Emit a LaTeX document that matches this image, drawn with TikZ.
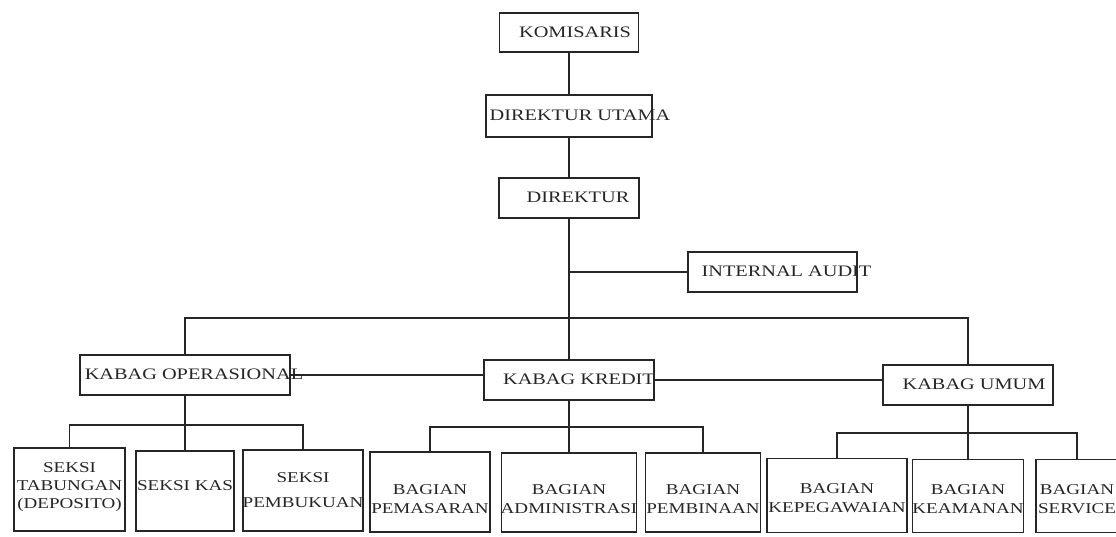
\documentclass[tikz,border=0pt]{standalone}
\usepackage{fontspec}
\setmainfont{Liberation Serif}[FakeStretch=1.27]
\newcommand\bxt[3]{\makebox[0pt]{\hspace*{#1}\raisebox{#2}[0pt][0pt]{\begin{tabular}{@{}c@{}}#3\end{tabular}}}}
\begin{document}
\begin{tikzpicture}[x=1pt,y=-1pt,
  box/.style={draw=black!85, line width=1.2pt, inner sep=0pt, text=black!85},
  big/.style={font=\fontsize{16}{19}\selectfont},
  small/.style={font=\fontsize{15}{19}\selectfont},
  conn/.style={draw=black!85, line width=1.2pt}]
\useasboundingbox[fill=white] (0,0) rectangle (1116,537);

% top chain
\node[box,big,minimum width=139pt,minimum height=39pt] (kom) at (569,32.5) {\bxt{12pt}{-5.5pt}{KOMISARIS}};
\node[box,big,minimum width=166pt,minimum height=42pt] (du) at (569,116) {\bxt{22pt}{-5.5pt}{DIREKTUR UTAMA}};
\node[box,big,minimum width=140pt,minimum height=40pt] (dir) at (569,198) {\bxt{18pt}{-5.5pt}{DIREKTUR}};
\node[box,big,minimum width=169pt,minimum height=40pt] (ia) at (772.5,272) {\bxt{28pt}{-5.5pt}{INTERNAL AUDIT}};

% kabag row
\node[box,big,minimum width=210pt,minimum height=40pt] (kop) at (185,375) {\bxt{18pt}{-5.5pt}{KABAG OPERASIONAL}};
\node[box,big,minimum width=170pt,minimum height=40pt] (kk) at (569,380) {\bxt{20pt}{-5.5pt}{KABAG KREDIT}};
\node[box,big,minimum width=170pt,minimum height=40pt] (ku) at (968,385) {\bxt{12pt}{-5.5pt}{KABAG UMUM}};

% bottom row
\node[box,small,minimum width=111pt,minimum height=83pt] (s1) at (69.5,489.5) {\bxt{0pt}{-0.5pt}{SEKSI\\[-1pt]TABUNGAN\\[-1pt](DEPOSITO)}};
\node[box,small,minimum width=98pt,minimum height=80pt] (s2) at (185,491) {\bxt{0pt}{1pt}{SEKSI KAS}};
\node[box,small,minimum width=120pt,minimum height=81pt] (s3) at (303,490.5) {\bxt{0pt}{-4.5pt}{SEKSI\\[6pt]PEMBUKUAN}};
\node[box,small,minimum width=120pt,minimum height=80pt] (b1) at (430,492) {\bxt{0pt}{-11.5pt}{BAGIAN\\PEMASARAN}};
\node[box,small,minimum width=135pt,minimum height=79pt] (b2) at (569,492.5) {\bxt{0pt}{-11.5pt}{BAGIAN\\ADMINISTRASI}};
\node[box,small,minimum width=115pt,minimum height=79pt] (b3) at (703,492.5) {\bxt{0pt}{-11.5pt}{BAGIAN\\PEMBINAAN}};
\node[box,small,minimum width=140pt,minimum height=74pt] (b4) at (837,495.5) {\bxt{0pt}{-7.5pt}{BAGIAN\\KEPEGAWAIAN}};
\node[box,small,minimum width=111pt,minimum height=73pt] (b5) at (968,496) {\bxt{0pt}{-7.5pt}{BAGIAN\\KEAMANAN}};
\node[box,small,minimum width=82pt,minimum height=73pt] (b6) at (1077,496) {\bxt{0pt}{-7.5pt}{BAGIAN\\SERVICE}};

% bus coordinates
\coordinate (mainbus) at (0,318);
\coordinate (opbus) at (0,425);
\coordinate (kbus) at (0,427);
\coordinate (ubus) at (0,433);

% connectors
\draw[conn] (kom.south) -- (du.north);
\draw[conn] (du.south) -- (dir.north);
\draw[conn] (dir.south) -- (kk.north);
\draw[conn] (dir.south |- ia.west) -- (ia.west);
\draw[conn] (kop.north) |- (ku.north |- mainbus) -- (ku.north);
\draw[conn] (kop.east) -- (kop.east -| kk.west);
\draw[conn] (kk.east) -- (kk.east -| ku.west);

\draw[conn] (kop.south) -- (s2.north);
\draw[conn] (s1.north) |- (s3.north |- opbus) -- (s3.north);
\draw[conn] (kk.south) -- (b2.north);
\draw[conn] (b1.north) |- (b3.north |- kbus) -- (b3.north);
\draw[conn] (ku.south) -- (b5.north);
\draw[conn] (b4.north) |- (b6.north |- ubus) -- (b6.north);
\end{tikzpicture}
\end{document}
